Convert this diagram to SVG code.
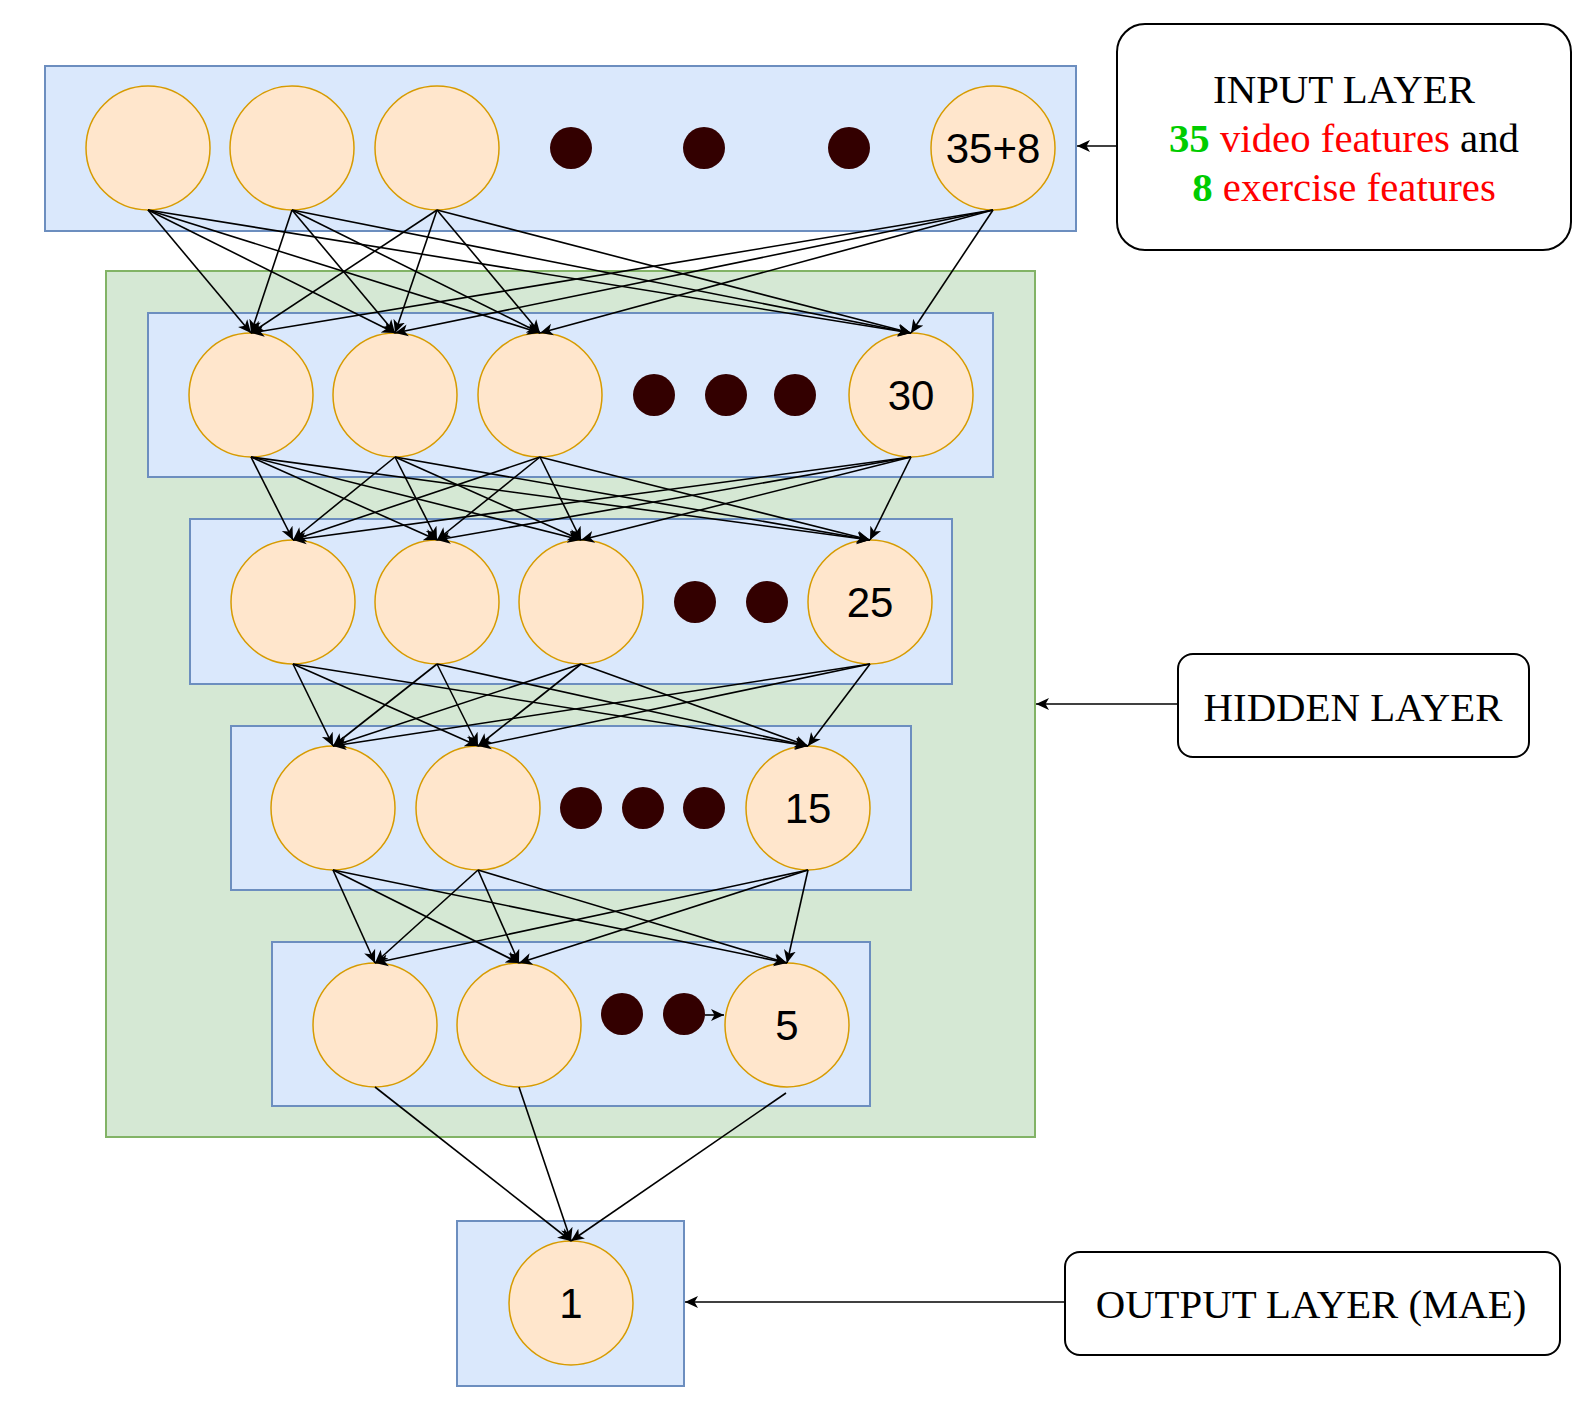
<svg xmlns="http://www.w3.org/2000/svg" width="1589" height="1419" viewBox="0 0 1589 1419">
  <defs>
    <style>
      .layer{fill:#dae8fc;stroke:#6c8ebf;stroke-width:2}
      .hidden{fill:#d5e8d4;stroke:#82b366;stroke-width:2}
      .neuron{fill:#ffe6cc;stroke:#d79b00;stroke-width:1.5}
      .dot{fill:#330000}
      .num{font-family:"Liberation Sans",Arial,sans-serif;font-size:42px;fill:#000;text-anchor:middle}
      .note{fill:#fff;stroke:#000;stroke-width:2}
      .label{font-family:"Liberation Serif","Times New Roman",serif;font-size:40.8px;fill:#000;text-anchor:middle}
      .green{fill:#00cc00;font-weight:bold}
      .red{fill:#ff0000}
      .edge line{stroke:#000;stroke-width:1.6;fill:none;marker-end:url(#arrow)}
    </style>
    <marker id="arrow" markerWidth="14" markerHeight="14" refX="13" refY="6.5" orient="auto" markerUnits="userSpaceOnUse">
      <path d="M0,0.5 L13,6.5 L0,12.5 L3.5,6.5 z" fill="#000"/>
    </marker>
  </defs>

  <rect x="0" y="0" width="1589" height="1419" fill="#fff"/>

  <!-- layer containers -->
  <g id="input-layer"><rect class="layer" x="45" y="66" width="1031" height="165"/></g>
  <g id="hidden-block"><rect class="hidden" x="106" y="271" width="929" height="866"/></g>
  <g id="hidden-1"><rect class="layer" x="148" y="313" width="845" height="164"/></g>
  <g id="hidden-2"><rect class="layer" x="190" y="519" width="762" height="165"/></g>
  <g id="hidden-3"><rect class="layer" x="231" y="726" width="680" height="164"/></g>
  <g id="hidden-4"><rect class="layer" x="272" y="942" width="598" height="164"/></g>
  <g id="output-layer"><rect class="layer" x="457" y="1221" width="227" height="165"/></g>

  <!-- input neurons -->
  <g id="in-1"><circle class="neuron" cx="148" cy="148" r="62"/></g>
  <g id="in-2"><circle class="neuron" cx="292" cy="148" r="62"/></g>
  <g id="in-3"><circle class="neuron" cx="437" cy="148" r="62"/></g>
  <g id="in-dots"><circle class="dot" cx="571" cy="148" r="21"/><circle class="dot" cx="704" cy="148" r="21"/><circle class="dot" cx="849" cy="148" r="21"/></g>
  <g id="in-n"><circle class="neuron" cx="993" cy="148" r="62"/><text class="num" x="993" y="163">35+8</text></g>

  <!-- hidden layer 1 -->
  <g id="h1-1"><circle class="neuron" cx="251" cy="395" r="62"/></g>
  <g id="h1-2"><circle class="neuron" cx="395" cy="395" r="62"/></g>
  <g id="h1-3"><circle class="neuron" cx="540" cy="395" r="62"/></g>
  <g id="h1-dots"><circle class="dot" cx="654" cy="395" r="21"/><circle class="dot" cx="726" cy="395" r="21"/><circle class="dot" cx="795" cy="395" r="21"/></g>
  <g id="h1-n"><circle class="neuron" cx="911" cy="395" r="62"/><text class="num" x="911" y="410">30</text></g>

  <!-- hidden layer 2 -->
  <g id="h2-1"><circle class="neuron" cx="293" cy="602" r="62"/></g>
  <g id="h2-2"><circle class="neuron" cx="437" cy="602" r="62"/></g>
  <g id="h2-3"><circle class="neuron" cx="581" cy="602" r="62"/></g>
  <g id="h2-dots"><circle class="dot" cx="695" cy="602" r="21"/><circle class="dot" cx="767" cy="602" r="21"/></g>
  <g id="h2-n"><circle class="neuron" cx="870" cy="602" r="62"/><text class="num" x="870" y="617">25</text></g>

  <!-- hidden layer 3 -->
  <g id="h3-1"><circle class="neuron" cx="333" cy="808" r="62"/></g>
  <g id="h3-2"><circle class="neuron" cx="478" cy="808" r="62"/></g>
  <g id="h3-dots"><circle class="dot" cx="581" cy="808" r="21"/><circle class="dot" cx="643" cy="808" r="21"/><circle class="dot" cx="704" cy="808" r="21"/></g>
  <g id="h3-n"><circle class="neuron" cx="808" cy="808" r="62"/><text class="num" x="808" y="823">15</text></g>

  <!-- hidden layer 4 -->
  <g id="h4-1"><circle class="neuron" cx="375" cy="1025" r="62"/></g>
  <g id="h4-2"><circle class="neuron" cx="519" cy="1025" r="62"/></g>
  <g id="h4-dots"><circle class="dot" cx="622" cy="1014" r="21"/><circle class="dot" cx="684" cy="1014" r="21"/></g>
  <g id="h4-n"><circle class="neuron" cx="787" cy="1025" r="62"/><text class="num" x="787" y="1040">5</text></g>

  <!-- output neuron -->
  <g id="out-1"><circle class="neuron" cx="571" cy="1303" r="62"/><text class="num" x="571" y="1318">1</text></g>

  <!-- annotation boxes -->
  <g id="note-input">
    <rect class="note" x="1117" y="24" width="454" height="226" rx="28"/>
    <text class="label" x="1344" y="103">INPUT LAYER</text>
    <text class="label" x="1344" y="152"><tspan class="green">35</tspan><tspan class="red"> video features</tspan> and</text>
    <text class="label" x="1344" y="201"><tspan class="green">8</tspan><tspan class="red"> exercise features</tspan></text>
  </g>
  <g id="note-hidden">
    <rect class="note" x="1178" y="654" width="351" height="103" rx="15"/>
    <text class="label" x="1353" y="721">HIDDEN LAYER</text>
  </g>
  <g id="note-output">
    <rect class="note" x="1065" y="1252" width="495" height="103" rx="15"/>
    <text class="label" x="1311" y="1318">OUTPUT LAYER (MAE)</text>
  </g>

  <!-- connectors -->
  <g id="connectors" class="edge">
    <!-- input -> hidden 1 -->
    <line x1="148" y1="210" x2="251" y2="333"/><line x1="148" y1="210" x2="395" y2="333"/><line x1="148" y1="210" x2="540" y2="333"/><line x1="148" y1="210" x2="911" y2="333"/>
    <line x1="292" y1="210" x2="251" y2="333"/><line x1="292" y1="210" x2="395" y2="333"/><line x1="292" y1="210" x2="540" y2="333"/><line x1="292" y1="210" x2="911" y2="333"/>
    <line x1="437" y1="210" x2="251" y2="333"/><line x1="437" y1="210" x2="395" y2="333"/><line x1="437" y1="210" x2="540" y2="333"/><line x1="437" y1="210" x2="911" y2="333"/>
    <line x1="993" y1="210" x2="251" y2="333"/><line x1="993" y1="210" x2="395" y2="333"/><line x1="993" y1="210" x2="540" y2="333"/><line x1="993" y1="210" x2="911" y2="333"/>
    <!-- hidden 1 -> hidden 2 -->
    <line x1="251" y1="457" x2="293" y2="540"/><line x1="251" y1="457" x2="437" y2="540"/><line x1="251" y1="457" x2="581" y2="540"/><line x1="251" y1="457" x2="870" y2="540"/>
    <line x1="395" y1="457" x2="293" y2="540"/><line x1="395" y1="457" x2="437" y2="540"/><line x1="395" y1="457" x2="581" y2="540"/><line x1="395" y1="457" x2="870" y2="540"/>
    <line x1="540" y1="457" x2="293" y2="540"/><line x1="540" y1="457" x2="437" y2="540"/><line x1="540" y1="457" x2="581" y2="540"/><line x1="540" y1="457" x2="870" y2="540"/>
    <line x1="911" y1="457" x2="293" y2="540"/><line x1="911" y1="457" x2="437" y2="540"/><line x1="911" y1="457" x2="581" y2="540"/><line x1="911" y1="457" x2="870" y2="540"/>
    <!-- hidden 2 -> hidden 3 -->
    <line x1="293" y1="664" x2="333" y2="746"/><line x1="293" y1="664" x2="478" y2="746"/><line x1="293" y1="664" x2="808" y2="746"/>
    <line x1="437" y1="664" x2="333" y2="746"/><line x1="437" y1="664" x2="478" y2="746"/><line x1="437" y1="664" x2="808" y2="746"/>
    <line x1="581" y1="664" x2="333" y2="746"/><line x1="581" y1="664" x2="478" y2="746"/><line x1="581" y1="664" x2="808" y2="746"/>
    <line x1="870" y1="664" x2="333" y2="746"/><line x1="870" y1="664" x2="478" y2="746"/><line x1="870" y1="664" x2="808" y2="746"/>
    <!-- hidden 3 -> hidden 4 -->
    <line x1="333" y1="870" x2="375" y2="963"/><line x1="333" y1="870" x2="519" y2="963"/><line x1="333" y1="870" x2="787" y2="963"/>
    <line x1="478" y1="870" x2="375" y2="963"/><line x1="478" y1="870" x2="519" y2="963"/><line x1="478" y1="870" x2="787" y2="963"/>
    <line x1="808" y1="870" x2="375" y2="963"/><line x1="808" y1="870" x2="519" y2="963"/><line x1="808" y1="870" x2="787" y2="963"/>
    <!-- dots -> last neuron of hidden 4 -->
    <line x1="705" y1="1015" x2="724" y2="1015"/>
    <!-- hidden 4 -> output -->
    <line x1="375" y1="1087" x2="571" y2="1241"/><line x1="519" y1="1087" x2="571" y2="1241"/><line x1="786" y1="1093" x2="571" y2="1241"/>
    <!-- annotations -> layers -->
    <line x1="1117" y1="146" x2="1077" y2="146"/>
    <line x1="1178" y1="704" x2="1036" y2="704"/>
    <line x1="1065" y1="1302" x2="685" y2="1302"/>
  </g>
</svg>
